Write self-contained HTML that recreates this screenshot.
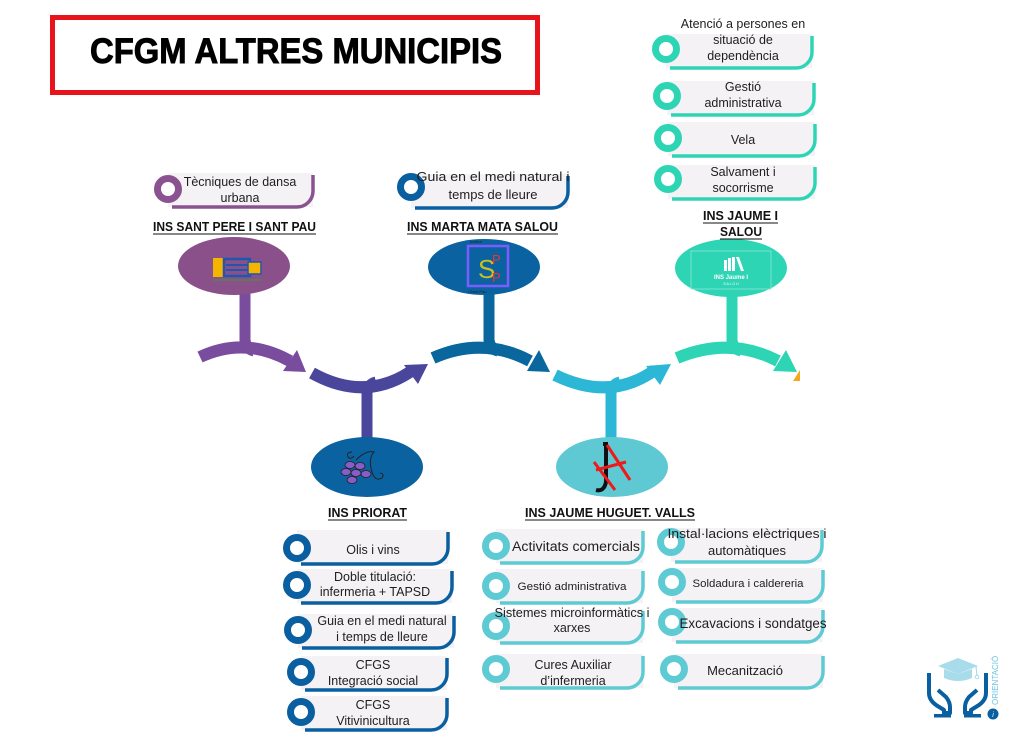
<!DOCTYPE html>
<html><head><meta charset="utf-8"><style>
html,body{margin:0;padding:0;background:#fff;}
svg{display:block;}
text{font-family:"Liberation Sans","DejaVu Sans",sans-serif;fill:#1e1e1e;}
.l{font-weight:bold;font-size:12.5px;fill:#111;}
.p{font-size:12.5px;}
</style></head><body>
<svg width="1024" height="741" viewBox="0 0 1024 741" xmlns="http://www.w3.org/2000/svg">
<rect width="1024" height="741" fill="#fff"/>

<!-- Title -->
<rect x="52.5" y="17.5" width="485" height="75" fill="#fff" stroke="#e8141b" stroke-width="5"/>
<text x="90" y="63" font-size="35" font-weight="bold" textLength="412" lengthAdjust="spacingAndGlyphs" style="fill:#000;stroke:#000;stroke-width:0.9">CFGM ALTRES MUNICIPIS</text>

<!-- Arrow segments -->
<g fill="none" stroke-width="12" stroke-linecap="butt">
  <path d="M200,357 Q245,336 290,361" stroke="#7a4c9e"/>
  <path d="M312,373 Q364,402 410,372" stroke="#4a469c"/>
  <path d="M433,358 Q483,336 530,361" stroke="#0a679e"/>
  <path d="M555,375 Q610,402 655,370" stroke="#2bb7d5"/>
  <path d="M677,358 Q730,336 778,361" stroke="#2ed5b5"/>
</g>
<g stroke-width="11" fill="none">
  <path d="M245,292 V340 Q246,349 254,351" stroke="#7a4c9e"/>
  <path d="M367,442 V393 Q368,384 376,382" stroke="#4a469c"/>
  <path d="M489,292 V340 Q490,349 498,351" stroke="#0a679e"/>
  <path d="M611,442 V393 Q612,384 620,382" stroke="#2bb7d5"/>
  <path d="M732,294 V340 Q733,349 741,351" stroke="#2ed5b5"/>
</g>
<polygon points="283,371 297,350 306,372" fill="#7a4c9e"/>
<polygon points="404,365 418,384 428,364" fill="#4a469c"/>
<polygon points="527,371 539,350 550,372" fill="#0a679e"/>
<polygon points="646,366 660,385 671,364" fill="#2bb7d5"/>
<polygon points="773,371 786,350 797,372" fill="#2ed5b5"/>
<polygon points="793,381 800,370 800,381" fill="#f5a623"/>

<!-- Ellipses -->
<ellipse cx="234" cy="266" rx="56" ry="29" fill="#8a5089"/>
<ellipse cx="484" cy="267" rx="56" ry="28" fill="#0a63a0"/>
<ellipse cx="731" cy="268" rx="56" ry="29" fill="#2ed5b5"/>
<ellipse cx="367" cy="467" rx="56" ry="30" fill="#0a63a0"/>
<ellipse cx="612" cy="467" rx="56" ry="30" fill="#5fc9d3"/>

<!-- Sant Pere logo -->
<rect x="213" y="258" width="11" height="19" fill="#f5b400"/>
<rect x="224" y="259" width="26" height="17" fill="none" stroke="#1f56b0" stroke-width="2.5"/>
<line x1="226" y1="265" x2="248" y2="265" stroke="#1f56b0" stroke-width="2"/>
<line x1="226" y1="270" x2="248" y2="270" stroke="#1f56b0" stroke-width="2"/>
<rect x="248" y="262" width="13" height="12" fill="#f5b400" stroke="#1f56b0" stroke-width="1.5"/>
<line x1="213" y1="280" x2="262" y2="280" stroke="#3a9a3a" stroke-width="1"/>

<!-- Marta Mata logo -->
<rect x="468" y="246" width="40" height="40" fill="none" stroke="#7d5cff" stroke-width="2.5"/>
<text x="478" y="278" font-size="26" style="fill:#c8c020">S</text>
<text x="492" y="264" font-size="13" style="fill:#e33">P</text>
<text x="492" y="282" font-size="13" style="fill:#e33">P</text>
<text x="470" y="243" font-size="4" style="fill:#222">Institut</text>
<text x="468" y="293" font-size="4" style="fill:#222">i Sant Pau</text>

<!-- Jaume I logo -->
<rect x="691" y="251" width="80" height="38" fill="none" stroke="#8ae8d6" stroke-width="0.8"/>
<g fill="#fff">
<rect x="724" y="260" width="3" height="11"/><rect x="728" y="258" width="3" height="13"/><rect x="732" y="257" width="3" height="14"/>
<polygon points="736,257 739,257 744,271 741,271"/>
</g>
<text x="731" y="279" font-size="6" font-weight="bold" text-anchor="middle" style="fill:#fff">INS Jaume I</text>
<text x="731" y="285" font-size="3.5" text-anchor="middle" style="fill:#fff">S A L O U</text>

<!-- Priorat logo -->
<g fill="#8a5cc8" stroke="#222" stroke-width="0.8">
<ellipse cx="350" cy="465" rx="5" ry="3.5"/><ellipse cx="360" cy="466" rx="5" ry="3.5"/>
<ellipse cx="346" cy="472" rx="5" ry="3.5"/><ellipse cx="356" cy="473" rx="5" ry="3.5"/><ellipse cx="366" cy="474" rx="5" ry="3.5"/>
<ellipse cx="352" cy="480" rx="5" ry="3.5"/>
</g>
<path d="M352,452 q-6,0 -4,5 q3,3 6,-1 M356,460 q10,-10 18,-8 q-6,6 -2,20 q3,10 10,6 q3,-4 -2,-5" fill="none" stroke="#222" stroke-width="1"/>

<!-- Huguet logo -->
<path d="M603,444 L606,444 L606,482 Q604,492 596,490" fill="none" stroke="#111" stroke-width="4"/>
<g stroke="#f01818" stroke-width="3">
<line x1="594" y1="462" x2="615" y2="490"/><line x1="607" y1="445" x2="630" y2="480"/><line x1="596" y1="470" x2="626" y2="462"/>
</g>

<!-- Labels -->
<text class="l" x="153" y="231" textLength="163" lengthAdjust="spacingAndGlyphs">INS SANT PERE I SANT PAU</text>
<line x1="153" y1="234" x2="316" y2="234" stroke="#111" stroke-width="1"/>
<text class="l" x="407" y="231" textLength="151" lengthAdjust="spacingAndGlyphs">INS MARTA MATA SALOU</text>
<line x1="407" y1="234" x2="558" y2="234" stroke="#111" stroke-width="1"/>
<text class="l" x="703" y="220" textLength="75" lengthAdjust="spacingAndGlyphs">INS JAUME I</text>
<line x1="703" y1="223" x2="778" y2="223" stroke="#111" stroke-width="1"/>
<text class="l" x="720" y="236" textLength="42" lengthAdjust="spacingAndGlyphs">SALOU</text>
<line x1="720" y1="239" x2="762" y2="239" stroke="#111" stroke-width="1"/>
<text class="l" x="328" y="517" textLength="79" lengthAdjust="spacingAndGlyphs">INS PRIORAT</text>
<line x1="328" y1="520" x2="407" y2="520" stroke="#111" stroke-width="1"/>
<text class="l" x="525" y="517" textLength="170" lengthAdjust="spacingAndGlyphs">INS JAUME HUGUET. VALLS</text>
<line x1="525" y1="520" x2="695" y2="520" stroke="#111" stroke-width="1"/>

<!-- Pills: backgrounds -->
<g fill="#f5f2f5">
<rect x="168" y="173" width="145" height="34"/>
<rect x="411" y="174" width="157" height="34"/>
<rect x="666" y="34" width="146" height="34"/>
<rect x="667" y="81" width="147" height="34"/>
<rect x="668" y="122" width="147" height="34"/>
<rect x="668" y="165" width="147" height="34"/>
<rect x="297" y="530" width="151" height="34"/>
<rect x="297" y="569" width="155" height="34"/>
<rect x="298" y="614" width="156" height="34"/>
<rect x="301" y="656" width="146" height="34"/>
<rect x="301" y="696" width="146" height="34"/>
<rect x="496" y="529" width="147" height="34"/>
<rect x="496" y="569" width="147" height="34"/>
<rect x="496" y="609" width="147" height="34"/>
<rect x="496" y="654" width="147" height="34"/>
<rect x="671" y="528" width="151" height="34"/>
<rect x="672" y="568" width="151" height="34"/>
<rect x="672" y="608" width="151" height="34"/>
<rect x="674" y="654" width="149" height="34"/>
</g>

<!-- Pill borders -->
<g fill="none" stroke-width="3.5">
<path d="M172,207 H297 A16,16 0 0 0 313,191 V175" stroke="#8a5290"/>
<path d="M415,208 H552 A16,16 0 0 0 568,192 V176" stroke="#0a5fa0"/>
<g stroke="#2ed5b5">
<path d="M670,68 H796 A16,16 0 0 0 812,52 V36"/>
<path d="M671,115 H798 A16,16 0 0 0 814,99 V83"/>
<path d="M672,156 H799 A16,16 0 0 0 815,140 V124"/>
<path d="M672,199 H799 A16,16 0 0 0 815,183 V167"/>
</g>
<g stroke="#0a5fa0">
<path d="M301,564 H432 A16,16 0 0 0 448,548 V532"/>
<path d="M301,603 H436 A16,16 0 0 0 452,587 V571"/>
<path d="M302,648 H438 A16,16 0 0 0 454,632 V616"/>
<path d="M305,690 H431 A16,16 0 0 0 447,674 V658"/>
<path d="M305,730 H431 A16,16 0 0 0 447,714 V698"/>
</g>
<g stroke="#5ecad4">
<path d="M500,563 H627 A16,16 0 0 0 643,547 V531"/>
<path d="M500,603 H627 A16,16 0 0 0 643,587 V571"/>
<path d="M500,643 H627 A16,16 0 0 0 643,627 V611"/>
<path d="M500,688 H627 A16,16 0 0 0 643,672 V656"/>
<path d="M675,562 H806 A16,16 0 0 0 822,546 V530"/>
<path d="M676,602 H807 A16,16 0 0 0 823,586 V570"/>
<path d="M676,642 H807 A16,16 0 0 0 823,626 V610"/>
<path d="M678,688 H807 A16,16 0 0 0 823,672 V656"/>
</g>
</g>

<!-- Rings -->
<g fill="#fff" stroke-width="7">
<circle cx="168" cy="189" r="10.5" stroke="#8a5290"/>
<circle cx="411" cy="187" r="10.5" stroke="#0a5fa0"/>
<g stroke="#2ed5b5">
<circle cx="666" cy="49" r="10.5"/><circle cx="667" cy="96" r="10.5"/><circle cx="668" cy="138" r="10.5"/><circle cx="668" cy="179" r="10.5"/>
</g>
<g stroke="#0a5fa0">
<circle cx="297" cy="548" r="10.5"/><circle cx="297" cy="585" r="10.5"/><circle cx="298" cy="630" r="10.5"/><circle cx="301" cy="672" r="10.5"/><circle cx="301" cy="712" r="10.5"/>
</g>
<g stroke="#5ecad4">
<circle cx="496" cy="546" r="10.5"/><circle cx="496" cy="586" r="10.5"/><circle cx="496" cy="626" r="10.5"/><circle cx="496" cy="669" r="10.5"/>
<circle cx="671" cy="542" r="10.5"/><circle cx="672" cy="582" r="10.5"/><circle cx="672" cy="622" r="10.5"/><circle cx="674" cy="669" r="10.5"/>
</g>
</g>

<!-- Pill texts -->
<g class="p" text-anchor="middle" font-size="12.5">
<text x="240" y="186">Tècniques de dansa</text>
<text x="240" y="202">urbana</text>
<text x="493" y="181" textLength="153" lengthAdjust="spacingAndGlyphs">Guia en el medi natural i</text>
<text x="493" y="199" font-size="13">temps de lleure</text>

<text x="743" y="28">Atenció a persones en</text>
<text x="743" y="44">situació de</text>
<text x="743" y="60">dependència</text>
<text x="743" y="91">Gestió</text>
<text x="743" y="107">administrativa</text>
<text x="743" y="144">Vela</text>
<text x="743" y="176">Salvament i</text>
<text x="743" y="192">socorrisme</text>

<text x="373" y="554">Olis i vins</text>
<text x="375" y="581">Doble titulació:</text>
<text x="375" y="596">infermeria + TAPSD</text>
<text x="382" y="625">Guia en el medi natural</text>
<text x="382" y="641">i temps de lleure</text>
<text x="373" y="669">CFGS</text>
<text x="373" y="685">Integració social</text>
<text x="373" y="709">CFGS</text>
<text x="373" y="725">Vitivinicultura</text>

<text x="576" y="551" font-size="13.5" textLength="128" lengthAdjust="spacingAndGlyphs">Activitats comercials</text>
<text x="572" y="590" font-size="11" textLength="109" lengthAdjust="spacingAndGlyphs">Gestió administrativa</text>
<text x="572" y="617" textLength="155" lengthAdjust="spacingAndGlyphs">Sistemes microinformàtics i</text>
<text x="572" y="632">xarxes</text>
<text x="573" y="669">Cures Auxiliar</text>
<text x="573" y="685">d’infermeria</text>

<text x="747" y="538" font-size="13" textLength="159" lengthAdjust="spacingAndGlyphs">Instal·lacions elèctriques i</text>
<text x="747" y="555" font-size="13">automàtiques</text>
<text x="748" y="587" font-size="11" textLength="111" lengthAdjust="spacingAndGlyphs">Soldadura i caldereria</text>
<text x="753" y="628" font-size="13.5" textLength="147" lengthAdjust="spacingAndGlyphs">Excavacions i sondatges</text>
<text x="745" y="675" font-size="13">Mecanització</text>
</g>

<!-- Orientació logo -->
<g>
<polygon points="938,666 958,658 978,666 958,674" fill="#a8dcea"/>
<path d="M944,669 V678 Q958,684 972,678 V669 L958,674 Z" fill="#a8dcea"/>
<line x1="976" y1="666" x2="977" y2="676" stroke="#a8dcea" stroke-width="1.2"/>
<circle cx="977" cy="677" r="1.8" fill="none" stroke="#a8dcea" stroke-width="1"/>
<path d="M929,673 V693 Q929,700 936,705 L944,710 V713 H950 V707 Q950,702 946,697 L938,690" fill="none" stroke="#0a5fa0" stroke-width="4" stroke-linejoin="round"/>
<path d="M986,673 V693 Q986,700 979,705 L971,710 V713 H965 V707 Q965,702 969,697 L977,690" fill="none" stroke="#0a5fa0" stroke-width="4" stroke-linejoin="round"/>
<rect x="934" y="714" width="17" height="3.5" fill="#0a5fa0"/>
<rect x="964" y="714" width="17" height="3.5" fill="#0a5fa0"/>
<text transform="translate(998,705) rotate(-90)" font-size="8" style="fill:#6cc3e0">ORIENTACIÓ</text>
<circle cx="993" cy="714" r="5.5" fill="#0a5fa0"/>
<text x="993" y="717" font-size="7" text-anchor="middle" font-style="italic" style="fill:#fff">i</text>
</g>
</svg>
</body></html>
